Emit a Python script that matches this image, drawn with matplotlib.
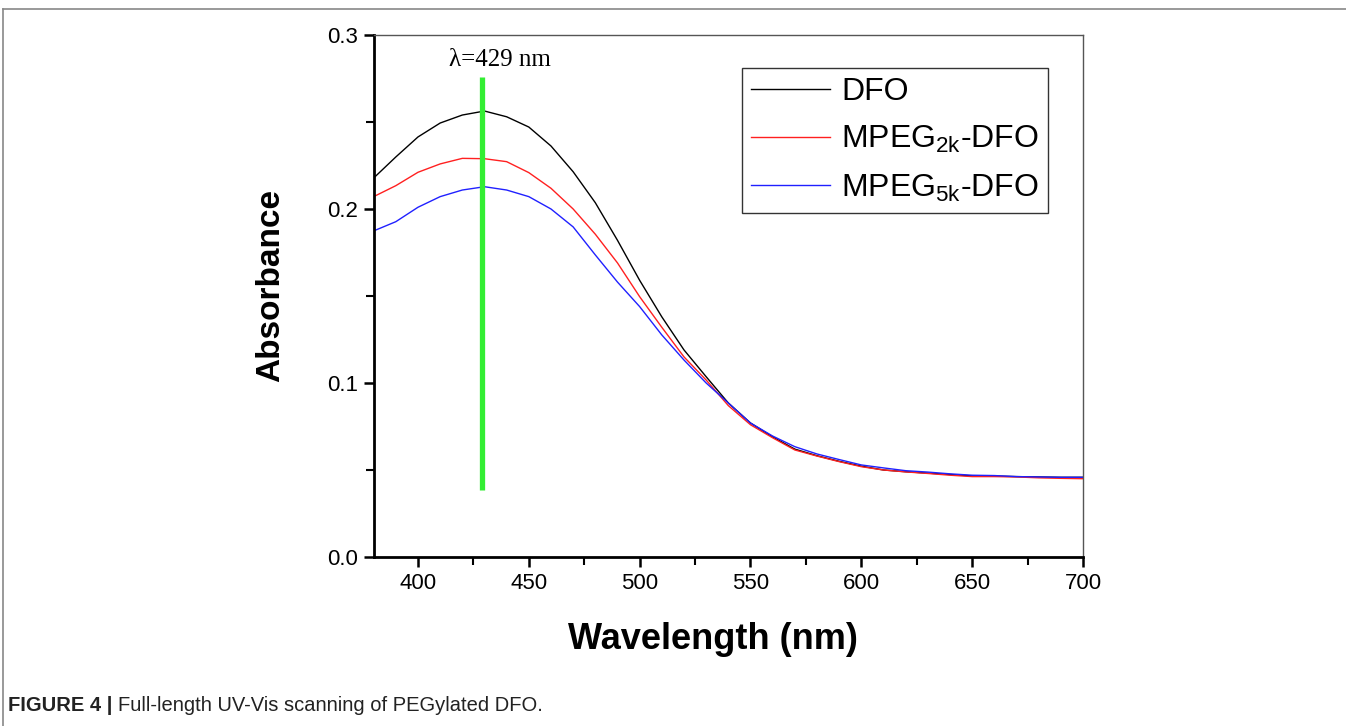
import numpy as np
import matplotlib
matplotlib.use('Agg')
import matplotlib.pyplot as plt
from matplotlib.lines import Line2D
from matplotlib.ticker import MultipleLocator, FormatStrFormatter

plt.rcParams['font.family'] = ['Liberation Sans', 'DejaVu Sans']
plt.rcParams['mathtext.default'] = 'regular'

# wavelength grid (nm) and absorbance
wavelength = [380, 390, 400, 410, 420, 430, 440, 450, 460, 470, 480, 490, 500,
              510, 520, 530, 540, 550, 560, 570, 580, 590, 600, 610, 620, 630,
              640, 650, 660, 670, 680, 690, 700]
dfo = [0.2178, 0.2299, 0.2414, 0.2494, 0.2540, 0.2563, 0.2530, 0.2471, 0.2362,
       0.2214, 0.2036, 0.1820, 0.1590, 0.1380, 0.1190, 0.1036, 0.0885, 0.0770,
       0.0690, 0.0620, 0.0582, 0.0550, 0.0522, 0.0500, 0.0490, 0.0482, 0.0474,
       0.0466, 0.0465, 0.0462, 0.0460, 0.0458, 0.0458]
mpeg2k = [0.2071, 0.2134, 0.2211, 0.2259, 0.2291, 0.2289, 0.2272, 0.2209, 0.2119,
          0.2000, 0.1855, 0.1690, 0.1496, 0.1320, 0.1150, 0.1017, 0.0870, 0.0760,
          0.0685, 0.0615, 0.0580, 0.0548, 0.0519, 0.0500, 0.0489, 0.0480, 0.0470,
          0.0462, 0.0462, 0.0460, 0.0455, 0.0452, 0.0450]
mpeg5k = [0.1874, 0.1927, 0.2010, 0.2071, 0.2109, 0.2128, 0.2109, 0.2071, 0.2000,
          0.1897, 0.1736, 0.1580, 0.1439, 0.1276, 0.1132, 0.1000, 0.0885, 0.0770,
          0.0695, 0.0634, 0.0592, 0.0560, 0.0529, 0.0512, 0.0496, 0.0488, 0.0478,
          0.0470, 0.0468, 0.0462, 0.0460, 0.0458, 0.0458]
peak = 429
peak_span = [0.0385, 0.276]

fig = plt.figure(figsize=(13.46, 7.26), dpi=100)
ax = fig.add_axes([0.2776, 0.2328, 0.527, 0.7190])

ax.plot(wavelength, dfo, color='black', lw=1.0, label='DFO')
ax.plot(wavelength, mpeg2k, color='#ff2020', lw=1.0, label=r'MPEG$_{2k}$-DFO')
ax.plot(wavelength, mpeg5k, color='#2020ff', lw=1.0, label=r'MPEG$_{5k}$-DFO')
ax.plot([peak, peak], peak_span, color='#33ee33', lw=3.8, solid_capstyle='butt')
ax.text(437, 0.2855, 'λ=429 nm', family=['Liberation Serif', 'DejaVu Serif'],
        fontsize=18, ha='center', va='center')

ax.set_xlim(380, 700)
ax.set_ylim(0, 0.3)
ax.xaxis.set_major_locator(MultipleLocator(50))
ax.xaxis.set_minor_locator(MultipleLocator(25))
ax.yaxis.set_major_locator(MultipleLocator(0.1))
ax.yaxis.set_minor_locator(MultipleLocator(0.05))
ax.set_xticks([400, 450, 500, 550, 600, 650, 700])
ax.yaxis.set_major_formatter(FormatStrFormatter('%.1f'))

ax.tick_params(which='major', direction='out', length=7.5, width=1.8, labelsize=16, pad=4)
ax.tick_params(which='minor', direction='out', length=6, width=1.5)
ax.tick_params(top=False, right=False)
for s in ['left', 'bottom']:
    ax.spines[s].set_linewidth(2)
    ax.spines[s].set_color('black')
for s in ['top', 'right']:
    ax.spines[s].set_linewidth(1)
    ax.spines[s].set_color('#555555')

ax.set_xlabel('Wavelength (nm)', fontsize=26, fontweight='bold')
ax.xaxis.set_label_coords(0.479, -0.125)
ax.set_ylabel('Absorbance', fontsize=24, fontweight='bold')
ax.yaxis.set_label_coords(-0.124, 0.52)

leg = ax.legend(loc='upper right', bbox_to_anchor=(0.951, 0.937), fontsize=23,
                handlelength=2.45, frameon=True, fancybox=False, borderpad=0.3,
                labelspacing=0.53, handletextpad=0.35, borderaxespad=0)
leg.get_frame().set_edgecolor('black')
leg.get_frame().set_linewidth(1.0)

# outer panel frame
fig.add_artist(Line2D([0.0025, 0.0025], [0, 0.9876], color='#888888', lw=1.2))
fig.add_artist(Line2D([0.0025, 1.0], [0.9876, 0.9876], color='#888888', lw=1.2))

cap1 = fig.text(0.006, 0.020, 'FIGURE 4 | ', fontsize=14.5, fontweight='bold',
                color='#222222')
fig.canvas.draw()
bb = cap1.get_window_extent()
fig.text(bb.x1 / fig.bbox.width, 0.020, 'Full-length UV-Vis scanning of PEGylated DFO.',
         fontsize=14.5, color='#222222')

fig.savefig('out.png', dpi=100)
